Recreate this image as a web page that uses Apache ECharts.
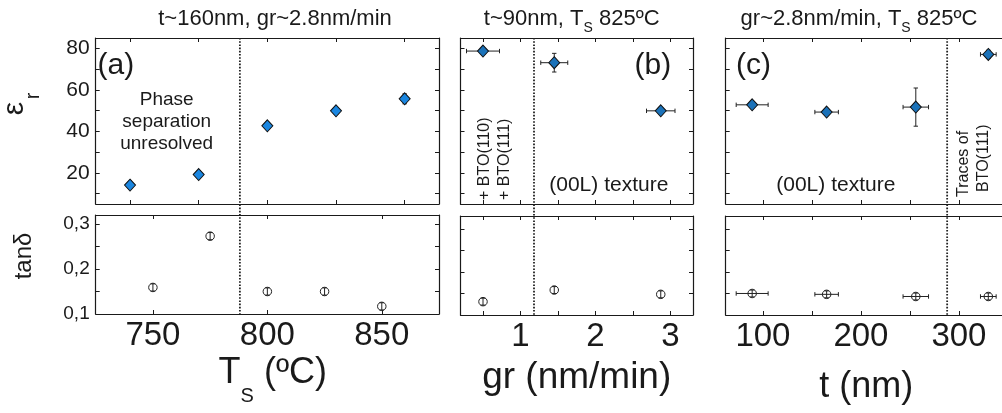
<!DOCTYPE html>
<html>
<head>
<meta charset="utf-8">
<script src="https://cdn.jsdelivr.net/npm/echarts@6/dist/echarts.min.js"></script>
<style>
  html, body { margin: 0; padding: 0; background: #ffffff; }
  #chart { width: 1002px; height: 413px; }
</style>
</head>
<body>
<div id="chart"></div>
<script>
// ---- (a) substrate temperature series, t~160nm, gr~2.8nm/min ----
const tsEpsTemp = [740, 770, 800, 830, 860];
const tsEps = [14.1, 19.2, 42.7, 49.9, 55.7];
const tsEpsErr = [0.6, 0.6, 0.9, 1.4, 2.4];
const tsTanTemp = [750, 775, 800, 825, 850];
const tsTan = [0.159, 0.273, 0.150, 0.150, 0.117];
const tsTanErr = [0.008, 0.008, 0.008, 0.008, 0.008];
const tsBoundary = 788;

// ---- (b) growth rate series, t~90nm, Ts 825 C ----
const grRate = [0.5, 1.45, 2.87];
const grRateErr = [0.22, 0.18, 0.19];
const grEps = [78.7, 73.1, 49.9];
const grEpsErr = [1.0, 4.5, 1.0];
const grTan = [0.131, 0.158, 0.148];
const grTanErr = [0.008, 0.008, 0.008];
const grBoundary = 1.18;

// ---- (c) thickness series, gr~2.8nm/min, Ts 825 C ----
const thick = [89, 165, 256, 330];
const thickErr = [16.3, 12, 13, 8];
const thEps = [52.8, 49.3, 51.7, 77.1];
const thEpsErr = [1.0, 1.0, 9.2, 2.0];
const thTan = [0.150, 0.148, 0.143, 0.143];
const thTanErr = [0.008, 0.008, 0.008, 0.008];
const thBoundary = 288;

// ---- tick positions and tick labels ----
const tsTicksTop = [740, 770, 800, 830, 860];
const tsTicksBottom = [750, 800, 850];
const tsLabels = [750, 800, 850];
const grTicks = [0.5, 1, 1.5, 2, 2.5, 3];
const grLabels = [1, 2, 3];
const thTicks = [100, 150, 200, 250, 300, 350];
const thLabels = [100, 200, 300];
const epsTicks = [10, 20, 30, 40, 50, 60, 70, 80];
const epsLabels = [20, 40, 60, 80];
const tanTicks = [0.15, 0.2, 0.25, 0.3];
const tanLabels = [0.1, 0.2, 0.3];

// ---- axis ranges ----
const tsRange = [725, 875];
const grRange = [0.2, 3.3];
const thRange = [62, 400];
const epsRange = [5, 85];
const tanRangeA = [0.1, 0.32];
const tanRangeBC = [0.1, 0.33];

// ---- layout ----
const FONT = '"Liberation Sans", Arial, Helvetica, sans-serif';
const INK = '#1a1a1a';
const ROW1 = { top: 38, height: 166 };
const ROW2A = { top: 215, height: 99 };
const ROW2BC = { top: 216, height: 99 };
const COL_A = { left: 95.7, width: 343.3 };
const COL_B = { left: 460.5, width: 232.5 };
const COL_C = { left: 725.7, width: 331.2 };   // runs past the right edge of the canvas

const grids = [
  Object.assign({}, COL_A, ROW1),
  Object.assign({}, COL_A, ROW2A),
  Object.assign({}, COL_B, ROW1),
  Object.assign({}, COL_B, ROW2BC),
  Object.assign({}, COL_C, ROW1),
  Object.assign({}, COL_C, ROW2BC)
].map(g => Object.assign({ containLabel: false, outerBoundsMode: 'none', show: false }, g));

function axisBase(g, range, ticks) {
  return {
    type: 'value', gridIndex: g, min: range[0], max: range[1],
    splitLine: { show: false },
    axisLine: { show: true, onZero: false, lineStyle: { color: INK, width: 1.2 } },
    axisTick: { show: true, inside: true, length: 4, customValues: ticks.slice(), lineStyle: { color: INK, width: 1 } }
  };
}

function makeXAxes(g, range, ticks, labels) {
  const bottom = axisBase(g, range, ticks);
  bottom.position = 'bottom';
  bottom.axisLabel = labels
    ? { show: true, customValues: labels.slice(), fontSize: 33, fontFamily: FONT, color: INK, margin: 5 }
    : { show: false };
  const top = axisBase(g, range, ticks);
  top.position = 'top';
  top.axisLabel = { show: false };
  return [bottom, top];
}

function makeYAxes(g, range, ticks, labels, fontSize, fmt) {
  const left = axisBase(g, range, ticks);
  left.position = 'left';
  left.axisLabel = labels
    ? { show: true, customValues: labels.slice(), fontSize: fontSize, fontFamily: FONT, color: INK, margin: 6, formatter: fmt }
    : { show: false };
  const right = axisBase(g, range, ticks);
  right.position = 'right';
  right.axisLabel = { show: false };
  return [left, right];
}

const commaFmt = v => Number(v).toFixed(1).replace('.', ',');

const xAxis = [].concat(
  makeXAxes(0, tsRange, tsTicksTop, null),
  makeXAxes(1, tsRange, tsTicksBottom, tsLabels),
  makeXAxes(2, grRange, grTicks, null),
  makeXAxes(3, grRange, grTicks, grLabels),
  makeXAxes(4, thRange, thTicks, null),
  makeXAxes(5, thRange, thTicks, thLabels)
);
const yAxis = [].concat(
  makeYAxes(0, epsRange, epsTicks, epsLabels, 21),
  makeYAxes(1, tanRangeA, tanTicks, tanLabels, 19, commaFmt),
  makeYAxes(2, epsRange, epsTicks, null),
  makeYAxes(3, tanRangeBC, tanTicks, null),
  makeYAxes(4, epsRange, epsTicks, null),
  makeYAxes(5, tanRangeBC, tanTicks, null)
);

// error bars with small end caps
function errorBarItem(params, api) {
  const x = api.value(0), y = api.value(1), ex = api.value(2), ey = api.value(3);
  const cap = 2.2;
  const style = { stroke: '#222', lineWidth: 1 };
  const children = [];
  if (ex > 0) {
    const l = api.coord([x - ex, y]), r = api.coord([x + ex, y]);
    children.push({ type: 'line', shape: { x1: l[0], y1: l[1], x2: r[0], y2: r[1] }, style: style });
    children.push({ type: 'line', shape: { x1: l[0], y1: l[1] - cap, x2: l[0], y2: l[1] + cap }, style: style });
    children.push({ type: 'line', shape: { x1: r[0], y1: r[1] - cap, x2: r[0], y2: r[1] + cap }, style: style });
  }
  if (ey > 0) {
    const t = api.coord([x, y + ey]), b = api.coord([x, y - ey]);
    children.push({ type: 'line', shape: { x1: t[0], y1: t[1], x2: b[0], y2: b[1] }, style: style });
    children.push({ type: 'line', shape: { x1: t[0] - cap, y1: t[1], x2: t[0] + cap, y2: t[1] }, style: style });
    children.push({ type: 'line', shape: { x1: b[0] - cap, y1: b[1], x2: b[0] + cap, y2: b[1] }, style: style });
  }
  return { type: 'group', children: children };
}

function errorBars(g, xs, ys, xErr, yErr) {
  return {
    type: 'custom', xAxisIndex: 2 * g, yAxisIndex: 2 * g, silent: true, z: 3,
    renderItem: errorBarItem,
    encode: { x: 0, y: 1 },
    data: xs.map((x, i) => [x, ys[i], xErr ? xErr[i] : 0, yErr ? yErr[i] : 0])
  };
}

function diamonds(g, xs, ys, color) {
  return {
    type: 'scatter', xAxisIndex: 2 * g, yAxisIndex: 2 * g, silent: true, z: 5,
    symbol: 'diamond', symbolSize: [11, 12],
    itemStyle: { color: color, borderColor: '#111', borderWidth: 1, opacity: 1 },
    data: xs.map((x, i) => [x, ys[i]])
  };
}

function circles(g, xs, ys) {
  return {
    type: 'scatter', xAxisIndex: 2 * g, yAxisIndex: 2 * g, silent: true, z: 5,
    symbol: 'circle', symbolSize: 8.5,
    itemStyle: { color: 'rgba(255,255,255,0)', borderColor: '#222', borderWidth: 1, opacity: 1 },
    data: xs.map((x, i) => [x, ys[i]])
  };
}

// dotted phase boundary running from the top of the permittivity panel to the bottom of the loss panel
function boundary(g, xValue, lowerRow) {
  const extra = lowerRow.top + lowerRow.height - (ROW1.top + ROW1.height);
  return {
    type: 'custom', xAxisIndex: 2 * g, yAxisIndex: 2 * g, silent: true, z: 2, clip: false,
    encode: { x: 0, y: 1 },
    data: [[xValue, epsRange[0]]],
    renderItem: function (params, api) {
      const x = api.value(0);
      const top = api.coord([x, epsRange[1]]);
      const bottom = api.coord([x, epsRange[0]]);
      return {
        type: 'line',
        shape: { x1: top[0], y1: top[1], x2: top[0], y2: bottom[1] + extra },
        style: { stroke: '#222', lineWidth: 1.8, lineDash: [1.6, 1.6] }
      };
    }
  };
}

const BLUE_A = '#1a86e0';
const BLUE_BC = '#1b72b9';

const series = [
  boundary(0, tsBoundary, ROW2A),
  boundary(2, grBoundary, ROW2BC),
  boundary(4, thBoundary, ROW2BC),
  errorBars(0, tsEpsTemp, tsEps, null, tsEpsErr),
  diamonds(0, tsEpsTemp, tsEps, BLUE_A),
  errorBars(1, tsTanTemp, tsTan, null, tsTanErr),
  circles(1, tsTanTemp, tsTan),
  errorBars(2, grRate, grEps, grRateErr, grEpsErr),
  diamonds(2, grRate, grEps, BLUE_BC),
  errorBars(3, grRate, grTan, null, grTanErr),
  circles(3, grRate, grTan),
  errorBars(4, thick, thEps, thickErr, thEpsErr),
  diamonds(4, thick, thEps, BLUE_BC),
  errorBars(5, thick, thTan, thickErr, thTanErr),
  circles(5, thick, thTan)
];

// ---- text: titles, axis names, annotations ----
function txt(x, y, text, size, align, vAlign, extra, lineHeight) {
  return Object.assign({
    type: 'text', x: x, y: y, silent: true, z: 10,
    style: {
      text: text, fill: INK, font: size + 'px ' + FONT,
      textAlign: align, textVerticalAlign: vAlign, textLineHeight: lineHeight || size
    }
  }, extra || {});
}

function richTxt(x, y, text, rich, align, vAlign, extra) {
  return Object.assign({
    type: 'text', x: x, y: y, silent: true, z: 10,
    style: { text: text, fill: INK, rich: rich, textAlign: align, textVerticalAlign: vAlign }
  }, extra || {});
}

function subRich(mainSize, subSize, pad) {
  return {
    m: { fontSize: mainSize, lineHeight: mainSize, fontFamily: FONT, fill: INK, verticalAlign: 'top' },
    s: { fontSize: subSize, lineHeight: subSize, fontFamily: FONT, fill: INK, verticalAlign: 'top', padding: [pad, 0, 0, 0] }
  };
}

const ROT = Math.PI / 2;
const graphic = [
  // column titles
  txt(275, 19.4, 't~160nm, gr~2.8nm/min', 22, 'center', 'middle'),
  richTxt(571.7, 8.4, '{m|t~90nm, T}{s|S}{m| 825ºC}', subRich(22, 14, 13), 'center', 'top'),
  richTxt(859, 8.4, '{m|gr~2.8nm/min, T}{s|S}{m| 825ºC}', subRich(22, 14, 13), 'center', 'top'),
  // y names (epsilon with its subscript r, and the loss tangent)
  txt(14.6, 108.5, 'ε', 30, 'center', 'middle', { rotation: ROT }),
  txt(33.1, 96, 'r', 20, 'center', 'middle', { rotation: ROT }),
  txt(24, 256, 'tanδ', 24, 'center', 'middle', { rotation: ROT }),
  // x names
  richTxt(218.6, 354.6, '{m|T}{s|S}{m| (ºC)}', subRich(36, 20, 31.5), 'left', 'top'),
  txt(576.7, 377.7, 'gr (nm/min)', 37, 'center', 'middle'),
  txt(866.3, 387.5, 't (nm)', 36, 'center', 'middle'),
  // panel letters
  txt(97.6, 65.6, '(a)', 30, 'left', 'middle'),
  txt(634.6, 65.6, '(b)', 30, 'left', 'middle'),
  txt(736, 65.6, '(c)', 30, 'left', 'middle'),
  // region notes
  txt(166.7, 89, 'Phase\nseparation\nunresolved', 19, 'center', 'top', null, 22),
  txt(608.8, 185.7, '(00L) texture', 21, 'center', 'middle'),
  txt(835.8, 185.7, '(00L) texture', 21, 'center', 'middle'),
  txt(495, 200, '+ BTO(110)\n+ BTO(111)', 16, 'left', 'middle', { rotation: ROT }, 20),
  txt(964, 197, 'Traces of', 16, 'left', 'middle', { rotation: ROT }),
  txt(984, 192, 'BTO(111)', 16, 'left', 'middle', { rotation: ROT })
];

const chart = echarts.init(document.getElementById('chart'), null, { renderer: 'canvas' });
chart.setOption({
  backgroundColor: '#ffffff',
  animation: false,
  grid: grids,
  xAxis: xAxis,
  yAxis: yAxis,
  series: series,
  graphic: graphic
});
</script>
</body>
</html>
